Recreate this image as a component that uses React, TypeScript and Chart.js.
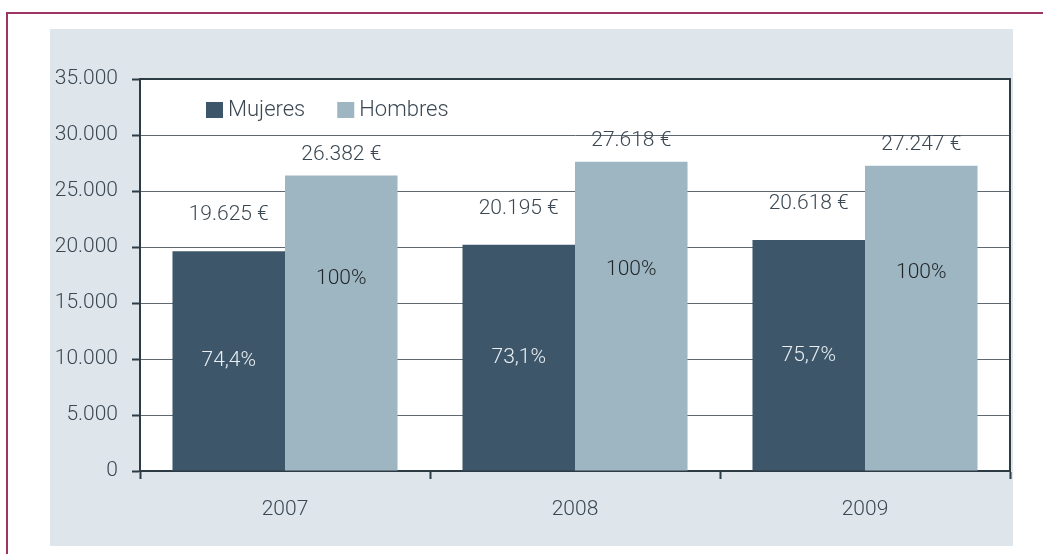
import React, { useEffect, useRef } from 'react';
import { Chart, registerables } from 'chart.js';

Chart.register(...registerables);

const categories = ['2007', '2008', '2009'];
const seriesNames = ['Mujeres', 'Hombres'];
const mujeres = [19625, 20195, 20618];
const hombres = [26382, 27618, 27247];
const mujeresPct = ['74,4%', '73,1%', '75,7%'];
const hombresPct = ['100%', '100%', '100%'];
const yMax = 35000;
const yStep = 5000;

const COLOR_M = '#3d5669';
const COLOR_H = '#9eb6c1';
const AXIS = '#2d3b45';
const GRID = '#5d6870';
const TEXT = '#3b4853';
const FONT = 'Roboto';

const fmt = (v: number) => String(Math.round(v)).replace(/\B(?=(\d{3})+(?!\d))/g, '.');

const decor = {
  id: 'decor',
  beforeDraw(chart: any) {
    const { ctx, width, height, chartArea: a } = chart;
    ctx.save();
    ctx.fillStyle = '#ffffff';
    ctx.fillRect(0, 0, width, height);
    ctx.fillStyle = '#dee6ec';
    ctx.fillRect(50, 29, 963, 517);
    ctx.fillStyle = '#9c3563';
    ctx.fillRect(6, 12, width - 6, 2);
    ctx.fillRect(6, 12, 2, height - 12);
    ctx.fillStyle = '#ffffff';
    ctx.fillRect(a.left, a.top, a.right - a.left, a.bottom - a.top);
    ctx.restore();
  },
  afterDatasetsDraw(chart: any) {
    const { ctx, chartArea: a } = chart;
    ctx.save();
    // top & right frame
    ctx.strokeStyle = AXIS;
    ctx.lineWidth = 2;
    ctx.beginPath();
    ctx.moveTo(a.left, a.top);
    ctx.lineTo(a.right, a.top);
    ctx.lineTo(a.right, a.bottom);
    ctx.stroke();

    ctx.font = `300 21px ${FONT}`;
    ctx.textAlign = 'center';
    ctx.textBaseline = 'middle';
    const pctSets = [mujeresPct, hombresPct];
    const offsets = [36, 21];
    chart.data.datasets.forEach((ds: any, di: number) => {
      const meta = chart.getDatasetMeta(di);
      meta.data.forEach((bar: any, i: number) => {
        const v = ds.data[i];
        ctx.fillStyle = TEXT;
        ctx.fillText(`${fmt(v)} €`, bar.x, bar.y - offsets[di]);
        const h = bar.base - bar.y;
        if (di === 0) {
          ctx.fillStyle = '#e8eef2';
          ctx.fillText(pctSets[di][i], bar.x, bar.y + h / 2);
        } else {
          ctx.fillStyle = '#1f2428';
          ctx.fillText(pctSets[di][i], bar.x, bar.base - h * 0.65);
        }
      });
    });

    // legend inside plot area
    let x = a.left + 66;
    const ly = a.top + 31;
    ctx.textAlign = 'left';
    ctx.font = `300 22px ${FONT}`;
    chart.data.datasets.forEach((ds: any) => {
      ctx.fillStyle = ds.backgroundColor;
      ctx.fillRect(x, ly - 8, 17, 16);
      ctx.fillStyle = TEXT;
      ctx.fillText(ds.label, x + 22, ly);
      x += 22 + ctx.measureText(ds.label).width + 32;
    });
    ctx.restore();
  },
};

export default function App() {
  const ref = useRef<HTMLCanvasElement>(null);
  useEffect(() => {
    document.body.style.margin = '0';
    const chart = new Chart(ref.current as HTMLCanvasElement, {
      type: 'bar',
      data: {
        labels: categories,
        datasets: [
          { label: seriesNames[0], data: mujeres, backgroundColor: COLOR_M },
          { label: seriesNames[1], data: hombres, backgroundColor: COLOR_H },
        ],
      },
      options: {
        animation: false,
        responsive: false,
        devicePixelRatio: 1,
        layout: { padding: { left: 50, top: 79, right: 33, bottom: 0 } },
        datasets: { bar: { categoryPercentage: 0.776, barPercentage: 1.0 } },
        plugins: { legend: { display: false }, tooltip: { enabled: false } },
        scales: {
          x: {
            grid: { offset: true, drawOnChartArea: false, drawTicks: true, tickLength: 8, tickColor: AXIS, tickWidth: 2 },
            border: { display: true, color: AXIS, width: 2 },
            ticks: { color: TEXT, padding: 18, font: { family: FONT, size: 21, weight: '300' as any } },
            afterFit: (s: any) => { s.height = 83; },
          },
          y: {
            min: 0,
            max: yMax,
            ticks: {
              stepSize: yStep,
              color: TEXT,
              padding: 14,
              font: { family: FONT, size: 21, weight: '300' as any },
              callback: (v: any) => fmt(Number(v)),
            },
            grid: { color: GRID, lineWidth: 1, tickLength: 8, tickColor: AXIS, tickWidth: 2 },
            border: { display: true, color: AXIS, width: 2 },
            afterFit: (s: any) => { s.width = 90; },
          },
        },
      },
      plugins: [decor],
    });
    return () => chart.destroy();
  }, []);
  return (
    <div style={{ width: 1043, height: 554 }}>
      <canvas ref={ref} width={1043} height={554} />
    </div>
  );
}
